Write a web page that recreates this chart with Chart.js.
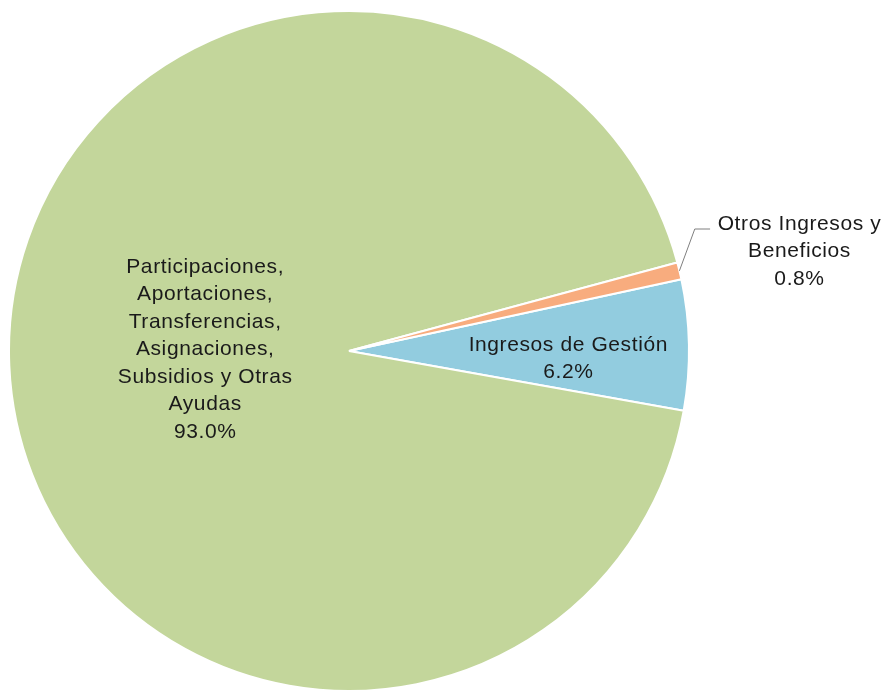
<!DOCTYPE html>
<html>
<head>
<meta charset="utf-8">
<script src="https://cdn.jsdelivr.net/npm/chart.js@4/dist/chart.umd.min.js"></script>
<style>
html,body{margin:0;padding:0;background:#fff;}
#wrap{width:888px;height:696px;}
</style>
</head>
<body>
<div id="wrap"><canvas id="c" width="888" height="696"></canvas></div>
<script>
const categories = ["Ingresos de Gestión", "Participaciones, Aportaciones, Transferencias, Asignaciones, Subsidios y Otras Ayudas", "Otros Ingresos y Beneficios"];
const values = [6.2, 93.0, 0.8];
const labelLines = [
  ["Ingresos de Gestión", "6.2%"],
  ["Participaciones,", "Aportaciones,", "Transferencias,", "Asignaciones,", "Subsidios y Otras", "Ayudas", "93.0%"],
  ["Otros Ingresos y", "Beneficios", "0.8%"]
];
const colors = ["#92CCDF", "#C3D69B", "#F8AC7E"];

const labelPlugin = {
  id: 'sliceLabels',
  afterDatasetsDraw(chart) {
    const ctx = chart.ctx;
    const meta = chart.getDatasetMeta(0);
    const arc0 = meta.data[0];
    const cx = arc0.x, cy = arc0.y, r = arc0.outerRadius;
    ctx.save();
    ctx.fillStyle = '#1a1a1a';
    ctx.font = '21px "Liberation Sans", Arial, sans-serif';
    try { ctx.letterSpacing = '0.6px'; } catch(e) {}
    ctx.textAlign = 'center';
    ctx.textBaseline = 'middle';
    const lh = 27.5;
    const anchors = [
      {x: cx + r * 0.645, y: cy - 6},
      {x: cx - r * 0.423, y: cy - 84},
      {x: cx + r * 1.325, y: cy - 127}
    ];
    labelLines.forEach((lines, i) => {
      const a = anchors[i];
      lines.forEach((t, j) => ctx.fillText(t, a.x, a.y + j * lh));
    });
    const arc2 = meta.data[2];
    const mid = (arc2.startAngle + arc2.endAngle) / 2;
    const px = cx + Math.cos(mid) * r, py = cy + Math.sin(mid) * r;
    ctx.strokeStyle = '#7f7f7f';
    ctx.lineWidth = 1;
    ctx.beginPath();
    ctx.moveTo(px, py);
    ctx.lineTo(cx + r * 1.017, cy - 122);
    ctx.lineTo(cx + r * 1.062, cy - 122);
    ctx.stroke();
    ctx.restore();
  }
};

new Chart(document.getElementById('c'), {
  type: 'pie',
  data: {
    labels: categories,
    datasets: [{
      data: values,
      backgroundColor: colors,
      borderColor: '#ffffff',
      borderWidth: 2
    }]
  },
  options: {
    responsive: false,
    animation: false,
    rotation: 77.8,
    layout: { padding: { top: 10, bottom: 4, left: 8, right: 198 } },
    plugins: { legend: { display: false }, tooltip: { enabled: false } }
  },
  plugins: [labelPlugin]
});
</script>
</body>
</html>
